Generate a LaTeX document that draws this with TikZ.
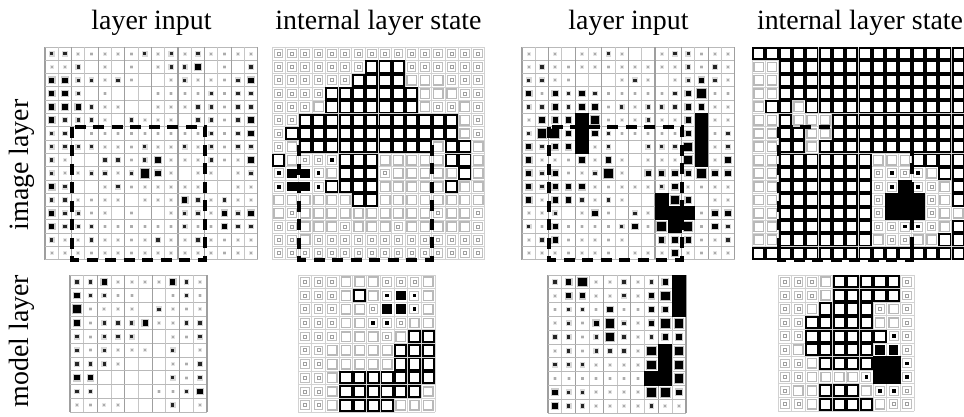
\documentclass[tikz,border=0pt]{standalone}
\usepackage{fontspec}
\setmainfont{Liberation Serif}

\tikzset{
  lbl/.style={font=\fontsize{28}{30}\selectfont, inner sep=0pt},
  roi/.style={draw=black, line width=3.8bp, dash pattern=on 11bp off 7.5bp},
}

% square of half-size #3 centred at (#1,#2)
\newcommand\sqbox[4]{\path[#4] (#1-#3,#2-#3) rectangle (#1+#3,#2+#3);}

% cell lines of an n x n grid: left, top, cell, n
\newcommand\inputlines[4]{%
  \foreach \k in {0,...,#4} {
    \ifodd\k
      \draw[gray!45, line width=0.9bp] (#1+\k*#3,#2) -- (#1+\k*#3,#2+#4*#3);
    \else
      \draw[gray!75, line width=1.2bp] (#1+\k*#3,#2) -- (#1+\k*#3,#2+#4*#3);
    \fi
    \draw[gray!55, line width=1bp] (#1,#2+\k*#3) -- (#1+#4*#3,#2+\k*#3);
  }
}
\newcommand\statelines[4]{%
  \foreach \k in {0,...,#4} {
    \draw[gray!35, line width=0.8bp] (#1+\k*#3,#2) -- (#1+\k*#3,#2+#4*#3);
    \draw[gray!35, line width=0.8bp] (#1,#2+\k*#3) -- (#1+#4*#3,#2+\k*#3);
  }
}

% input activity: 0 none, 1 faint, 2 small, 3 medium, 4 large, 5 full cell
\newcommand\inputgrid[4]{%
  \foreach \rowdata [count=\r] in {#4} {
    \foreach \v [count=\c] in \rowdata {
      \pgfmathsetmacro\px{#1+(\c-0.5)*#3}
      \pgfmathsetmacro\py{#2+(\r-0.5)*#3}
      \ifcase\v\relax
      \or \sqbox{\px}{\py}{1.9}{fill=gray!20}\sqbox{\px}{\py}{1.1}{fill=gray!65}
      \or \sqbox{\px}{\py}{2.9}{fill=gray!30}\sqbox{\px}{\py}{1.7}{fill=black!85}
      \or \sqbox{\px}{\py}{3.9}{fill=gray!40}\sqbox{\px}{\py}{2.7}{fill=black}
      \or \sqbox{\px}{\py}{5.2}{fill=gray!50}\sqbox{\px}{\py}{4.2}{fill=black}
      \or \sqbox{\px}{\py}{0.52*#3}{fill=black}
      \fi
    }
  }
}

% internal state: 0 faint, 1 grey box, 2 black box, 3 black square, 4 dot, 5 full cell
\newcommand\stategrid[4]{%
  \foreach \rowdata [count=\r] in {#4} {
    \foreach \v [count=\c] in \rowdata {
      \pgfmathsetmacro\px{#1+(\c-0.5)*#3}
      \pgfmathsetmacro\py{#2+(\r-0.5)*#3}
      \ifcase\v\relax
        \sqbox{\px}{\py}{4.3}{draw=gray!50, line width=1bp}\sqbox{\px}{\py}{1.5}{draw=gray!75, line width=0.8bp}
      \or \sqbox{\px}{\py}{4.7}{draw=gray!55, line width=1.5bp}
      \or \sqbox{\px}{\py}{5.6}{draw=black, line width=1.9bp}
      \or \sqbox{\px}{\py}{4.8}{fill=black}
      \or \sqbox{\px}{\py}{4.5}{draw=gray!50, line width=1bp}\sqbox{\px}{\py}{1.9}{fill=black}
      \or \sqbox{\px}{\py}{0.52*#3}{fill=black}
      \fi
    }
  }
}

% dashed region: left, top, cell
\newcommand\roibox[3]{\draw[roi] (#1+2*#3,#2+6*#3) rectangle (#1+12*#3,#2+16*#3);}

\begin{document}
\begin{tikzpicture}[x=1bp, y=-1bp]
\useasboundingbox (0,0) rectangle (964,416);
\fill[white] (0,0) rectangle (964,416);

% column headings
\node[lbl, anchor=base] (h1) at (151.5,29) {layer input};
\node[lbl, anchor=base] (h2) at (378.5,29) {internal layer state};
\node[lbl, anchor=base] (h3) at (628.5,29) {layer input};
\node[lbl, anchor=base] (h4) at (860,29) {internal layer state};
% row headings
\node[lbl, rotate=90] (r1) at (22,165) {image layer};
\node[lbl, rotate=90] (r2) at (22,341) {model layer};

% ---------- image layer, first example ----------
\inputlines{45}{47}{13.3}{16}
\inputgrid{45}{47}{13.3}{
{2,2,1,1,1,1,1,2,1,2,1,2,1,1,1,1},
{1,1,2,0,1,0,1,0,1,2,2,3,0,1,0,2},
{3,3,2,2,1,2,1,0,0,1,2,1,1,1,2,3},
{3,3,2,0,1,0,0,0,1,1,1,1,2,1,2,2},
{3,3,3,2,1,1,0,0,1,1,1,2,2,1,2,2},
{3,2,2,2,1,0,2,1,1,1,0,2,2,1,2,3},
{2,2,0,1,1,1,1,1,1,1,1,1,2,1,2,3},
{2,2,2,2,1,1,1,2,1,1,2,1,2,1,2,2},
{2,1,0,0,2,2,1,2,3,1,1,1,2,1,1,3},
{2,1,1,2,2,1,2,4,3,1,0,1,1,0,1,2},
{3,2,0,0,1,2,1,1,1,1,1,1,0,0,1,1},
{2,2,1,1,1,1,0,1,1,1,3,2,1,2,1,1},
{3,2,2,1,1,0,1,0,0,1,2,2,1,3,2,3},
{3,2,2,2,1,1,1,1,1,1,2,1,1,3,2,2},
{2,1,1,2,1,1,1,1,2,1,1,2,1,1,1,1},
{1,1,1,1,1,1,1,1,1,1,1,1,1,1,1,1}}
\roibox{45}{47}{13.3}

\statelines{272}{47}{13.3}{16}
\stategrid{272}{47}{13.3}{
{0,0,0,0,0,0,0,0,0,0,0,0,0,0,0,0},
{0,0,0,0,0,0,0,2,2,2,0,0,0,0,0,0},
{0,0,0,0,0,0,2,2,2,2,1,1,1,0,0,0},
{0,0,0,0,2,2,2,2,2,2,2,1,1,1,0,0},
{0,0,0,1,2,2,2,2,2,2,2,1,0,0,1,0},
{0,0,2,2,2,2,2,2,2,2,2,2,2,2,1,0},
{0,2,2,2,2,2,2,2,2,2,2,2,2,2,1,0},
{0,1,2,2,2,2,2,2,2,2,2,2,1,2,2,1},
{2,1,0,0,4,2,2,2,1,1,1,1,1,2,2,1},
{4,3,3,4,1,2,2,2,0,1,1,1,1,1,2,1},
{4,3,3,4,2,2,2,2,1,1,1,1,1,2,1,1},
{1,1,1,1,1,1,2,2,1,1,1,1,1,1,1,1},
{1,0,1,1,1,1,1,1,1,1,1,1,0,1,1,0},
{0,0,1,1,1,0,1,1,1,0,1,1,1,1,1,0},
{0,0,1,0,0,0,0,0,0,0,0,0,0,0,0,0},
{0,0,0,0,0,0,0,0,0,0,0,0,0,0,0,0}}
\roibox{272}{47}{13.3}

% ---------- image layer, second example ----------
\inputlines{522}{47}{13.3}{16}
\inputgrid{522}{47}{13.3}{
{1,0,1,0,1,1,2,1,0,0,1,2,2,1,1,1},
{1,2,1,1,1,1,1,1,1,1,1,1,2,1,2,1},
{2,2,1,1,0,0,0,1,2,1,0,1,2,3,2,1},
{3,1,3,2,3,2,1,1,1,1,1,2,3,4,1,1},
{2,2,3,2,3,3,1,2,1,2,2,2,3,3,1,1},
{1,3,3,3,5,4,1,1,1,2,1,1,3,5,1,1},
{2,4,4,3,5,3,2,1,1,1,1,1,3,5,1,2},
{3,2,3,3,5,1,2,0,0,2,2,2,4,5,1,2},
{3,1,1,1,3,1,3,1,0,1,1,1,4,5,1,3},
{3,2,3,1,1,2,4,1,0,3,3,3,3,4,3,3},
{3,2,3,3,3,1,1,1,1,1,2,3,1,1,1,1},
{3,1,3,3,2,1,2,1,0,0,5,4,3,0,1,1},
{1,1,2,0,1,3,1,0,2,1,5,5,5,1,3,3},
{2,1,3,1,1,1,1,2,3,1,4,5,4,1,3,2},
{1,2,3,1,1,1,1,1,0,0,3,3,3,1,1,2},
{1,1,1,1,1,1,1,0,1,1,1,3,1,1,1,1}}
\roibox{522}{47}{13.3}

\statelines{752}{47}{13.3}{16}
\stategrid{752}{47}{13.3}{
{2,2,2,2,2,2,2,2,2,2,2,2,2,2,2,2},
{1,1,2,2,2,2,2,2,2,2,2,2,2,2,2,2},
{1,1,2,2,2,2,2,2,2,2,2,2,2,2,2,2},
{1,1,2,2,2,2,2,2,2,2,2,2,2,2,2,2},
{1,2,2,1,2,2,2,2,2,2,2,2,2,2,2,2},
{1,1,2,1,1,1,2,2,2,2,2,2,2,2,2,2},
{1,1,2,2,1,1,2,2,2,2,2,2,2,2,2,2},
{1,1,2,2,1,2,2,2,2,2,2,2,2,2,2,2},
{1,1,2,2,2,2,2,2,2,1,1,1,2,2,2,2},
{1,1,2,2,2,2,2,2,2,0,4,0,4,1,2,2},
{1,1,2,2,2,2,2,2,2,0,4,5,4,0,1,2},
{1,1,2,2,2,2,2,2,2,0,5,5,5,0,1,2},
{1,1,2,2,2,2,2,2,2,0,5,5,5,0,1,1},
{1,1,2,2,2,2,2,2,2,0,0,4,4,0,1,2},
{1,1,2,2,2,2,2,2,2,1,0,0,1,1,2,2},
{2,2,2,2,2,2,2,2,2,2,2,2,2,2,2,2}}
\roibox{752}{47}{13.3}

% ---------- model layer ----------
\inputlines{70}{275}{13.7}{10}
\inputgrid{70}{275}{13.7}{
{2,2,3,1,1,1,1,3,2,1},
{3,2,2,1,1,0,0,1,2,1},
{4,1,1,1,1,0,2,1,1,1},
{3,1,2,2,2,3,1,1,2,2},
{2,1,2,2,2,0,0,1,1,2},
{2,1,2,1,1,1,0,2,0,1},
{2,2,2,1,0,0,0,1,1,2},
{3,3,0,0,0,0,0,2,1,2},
{2,2,0,0,0,0,1,1,2,3},
{1,1,1,1,0,0,0,2,0,1}}

\statelines{298}{275}{13.7}{10}
\stategrid{298}{275}{13.7}{
{0,0,0,1,1,1,0,0,0,1},
{0,0,0,1,2,1,4,3,4,1},
{0,0,0,1,1,0,3,3,4,1},
{0,0,0,1,1,4,4,0,1,1},
{0,0,0,1,1,1,0,1,2,2},
{0,0,1,1,1,1,1,2,2,2},
{0,0,1,1,1,1,1,2,2,2},
{0,0,1,2,2,2,2,2,2,2},
{0,0,1,2,2,2,2,2,2,1},
{0,0,1,2,2,2,2,1,1,1}}

\inputlines{548}{275}{13.8}{10}
\inputgrid{548}{275}{13.8}{
{2,3,4,1,1,2,1,2,3,5},
{1,3,3,1,1,2,1,3,4,5},
{1,2,2,1,3,1,1,3,3,5},
{1,2,1,3,4,2,1,3,4,4},
{2,2,1,2,4,2,1,2,3,3},
{1,2,1,2,2,2,1,4,5,4},
{2,2,2,1,1,1,1,4,5,4},
{1,1,1,1,1,1,1,5,5,4},
{3,2,2,1,1,1,1,4,4,3},
{3,2,2,1,1,1,1,2,1,1}}

\statelines{778}{275}{13.6}{10}
\stategrid{778}{275}{13.6}{
{0,0,0,1,2,2,2,2,2,0},
{0,0,0,1,2,2,2,2,2,0},
{0,0,1,2,2,2,2,0,1,0},
{0,0,2,2,2,2,2,1,1,0},
{0,0,2,2,2,2,2,2,4,0},
{0,1,2,2,2,2,2,3,3,0},
{0,0,1,2,2,2,2,5,5,4},
{0,0,1,1,1,1,4,5,5,4},
{0,1,1,2,2,2,1,4,4,0},
{0,0,1,2,2,2,2,1,0,0}}
\end{tikzpicture}
\end{document}
